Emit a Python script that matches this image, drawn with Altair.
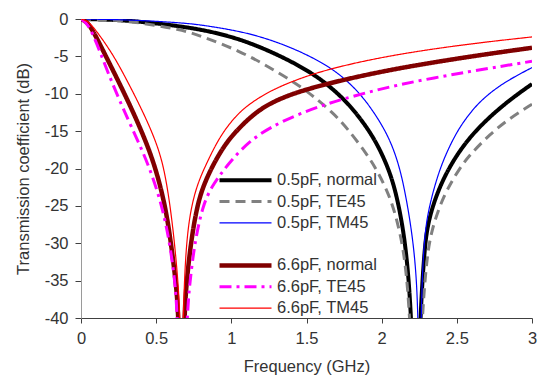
import altair as alt
import pandas as pd

SERIES = ["0.5pF, normal", "0.5pF, TE45", "0.5pF, TM45", " ",
          "6.6pF, normal", "6.6pF, TE45", "6.6pF, TM45"]
COLORS = ["#000000", "#808080", "#0000FF", "#FFFFFF", "#800000", "#FF00FF", "#FF0000"]
DASHES = [[1, 0], [10, 6], [1, 0], [1, 0], [1, 0], [12, 5, 3, 5], [1, 0]]
WIDTHS = [4, 3, 1.2, 0, 4.5, 3, 1.2]

X_TICKS = [0, 0.5, 1, 1.5, 2, 2.5, 3]
Y_TICKS = [-40, -35, -30, -25, -20, -15, -10, -5, 0]

# 0.5pF, normal
f_a = [0, 0.2, 0.4, 0.66, 0.85, 1.06, 1.257, 1.42, 1.59, 1.757, 1.87, 1.96, 2.04, 2.09, 2.134, 2.167, 2.2,
       2.227, 2.255, 2.282, 2.3, 2.35, 2.44, 2.59, 2.81, 3.0]
d_a = [0, -0.08, -0.35, -0.96, -1.6, -2.7, -4.3, -5.9, -7.9, -10.8, -13.6, -16.3, -19.7, -22.8, -27, -31.7, -40,
       -60, -40, -31.7, -28.0, -24.2, -20.0, -15.5, -11.4, -8.7]
# 0.5pF, TE45
f_b = [0, 0.2, 0.4, 0.66, 0.79, 1.06, 1.257, 1.48, 1.68, 1.77, 1.90, 1.98, 2.06, 2.11, 2.156, 2.19,
       2.228, 2.267, 2.30, 2.33, 2.41, 2.52, 2.59, 2.72, 2.85, 3.0]
d_b = [0, -0.12, -0.5, -1.4, -2.2, -4.3, -6.5, -9.2, -12.6, -14.6, -18.0, -20.6, -24, -27.5, -32, -40,
       -60, -40, -32, -28.3, -23.6, -19.9, -18.1, -15.4, -13.3, -11.4]
# 0.5pF, TM45
f_c = [0, 0.33, 0.66, 0.79, 1.06, 1.257, 1.457, 1.657, 1.79, 1.9, 2.03, 2.1, 2.145, 2.19, 2.225, 2.245,
       2.252, 2.26, 2.28, 2.32, 2.36, 2.41, 2.5, 2.59, 2.67, 2.81, 3.0]
d_c = [0, -0.1, -0.5, -0.75, -1.63, -2.74, -4.3, -6.4, -8.6, -11.0, -15.0, -18.5, -22, -27, -32.5, -40,
       -60, -40, -29, -24.8, -21.8, -18.8, -15.0, -12.5, -10.7, -8.5, -6.5]
# 6.6pF, normal
f_d = [0, 0.035, 0.071, 0.16, 0.293, 0.404, 0.49, 0.559, 0.597, 0.63, 0.652, 0.668, 0.685, 0.703,
       0.732, 0.774, 0.82, 0.88, 0.945, 1.013, 1.13, 1.257, 1.457, 1.75, 2.1, 2.59, 3.0]
d_d = [0, -0.35, -1.2, -4.75, -10.1, -15, -19.45, -24.8, -29.7, -35, -40, -60, -40, -35,
       -29.7, -24.8, -22.0, -19.45, -17.2, -15.4, -13.0, -11.2, -9.6, -8.1, -6.6, -5.0, -3.85]
# 6.6pF, TE45
f_e = [0, 0.035, 0.07, 0.125, 0.182, 0.25, 0.33, 0.45, 0.537, 0.588, 0.625, 0.643, 0.672, 0.703, 0.725,
       0.758, 0.812, 0.87, 0.945, 1.013, 1.124, 1.257, 1.457, 1.70, 2.1, 2.59, 3.0]
d_e = [0, -0.5, -1.6, -4.3, -7.3, -10.6, -14.2, -19.45, -24.8, -29.7, -35, -40, -60, -40, -35,
       -29.7, -24.8, -22.4, -20.3, -18.6, -16.3, -14.5, -12.6, -10.9, -8.76, -7.0, -5.65]
# 6.6pF, TM45
f_f = [0, 0.035, 0.071, 0.2, 0.293, 0.4, 0.49, 0.55, 0.592, 0.621, 0.645, 0.66, 0.668, 0.677, 0.699,
       0.736, 0.78, 0.832, 0.925, 1.036, 1.124, 1.257, 1.457, 1.70, 2.1, 2.59, 3.0]
d_f = [0, -0.2, -0.73, -4.3, -7.7, -11.9, -15.9, -19.6, -24.8, -29.7, -35, -40, -60, -40, -29.7,
       -24.8, -21.8, -19.45, -15.6, -12.8, -11.3, -9.6, -7.9, -6.4, -4.7, -3.3, -2.4]

CURVES = [(SERIES[0], f_a, d_a), (SERIES[1], f_b, d_b), (SERIES[2], f_c, d_c),
          (SERIES[4], f_d, d_d), (SERIES[5], f_e, d_e), (SERIES[6], f_f, d_f)]

rows = []
for name, fs, ds in CURVES:
    for f, d in zip(fs, ds):
        rows.append({"series": name, "f": f, "db": d})
df = pd.DataFrame(rows)

FONT = "Liberation Sans"
leg = alt.Legend(title=None)

chart = alt.Chart(df).mark_line(clip=True, interpolate="basis").encode(
    x=alt.X("f:Q", title="Frequency (GHz)",
            scale=alt.Scale(domain=[0, 3], nice=False, zero=False),
            axis=alt.Axis(values=X_TICKS, labelExpr="datum.value + ''", grid=False,
                          domainColor="#404040", tickColor="#404040", tickSize=5,
                          labelPadding=7, titlePadding=12, labelFlush=False)),
    y=alt.Y("db:Q", title="Transmission coefficient (dB)",
            scale=alt.Scale(domain=[-40, 0], nice=False, zero=False),
            axis=alt.Axis(values=Y_TICKS, labelExpr="datum.value + ''", grid=False,
                          domainColor="#9a9a9a", tickColor="#404040", tickSize=6,
                          labelPadding=7, titlePadding=13, labelFlush=False)),
    color=alt.Color("series:N", scale=alt.Scale(domain=SERIES, range=COLORS), legend=leg),
    strokeDash=alt.StrokeDash("series:N", scale=alt.Scale(domain=SERIES, range=DASHES), legend=leg),
    strokeWidth=alt.StrokeWidth("series:N", scale=alt.Scale(type="ordinal", domain=SERIES, range=WIDTHS),
                                legend=leg),
).properties(
    width=451, height=299,
    autosize=alt.AutoSizeParams(type="none"),
    padding={"left": 81, "top": 19, "right": 6, "bottom": 61},
).configure_view(stroke=None).configure_axis(
    labelFont=FONT, labelFontSize=16.5, labelColor="#333333",
    titleFont=FONT, titleFontSize=16.5, titleColor="#333333", titleFontWeight="normal",
).configure_legend(
    orient="none", legendX=136, legendY=153, padding=0, clipHeight=16.5,
    symbolType="stroke", symbolSize=2704, labelFont=FONT, labelFontSize=16.5,
    labelColor="#333333", labelOffset=3, rowPadding=4.3, labelLimit=300,
)

chart.save("out.html", embed_options={"renderer": "svg", "actions": False})
